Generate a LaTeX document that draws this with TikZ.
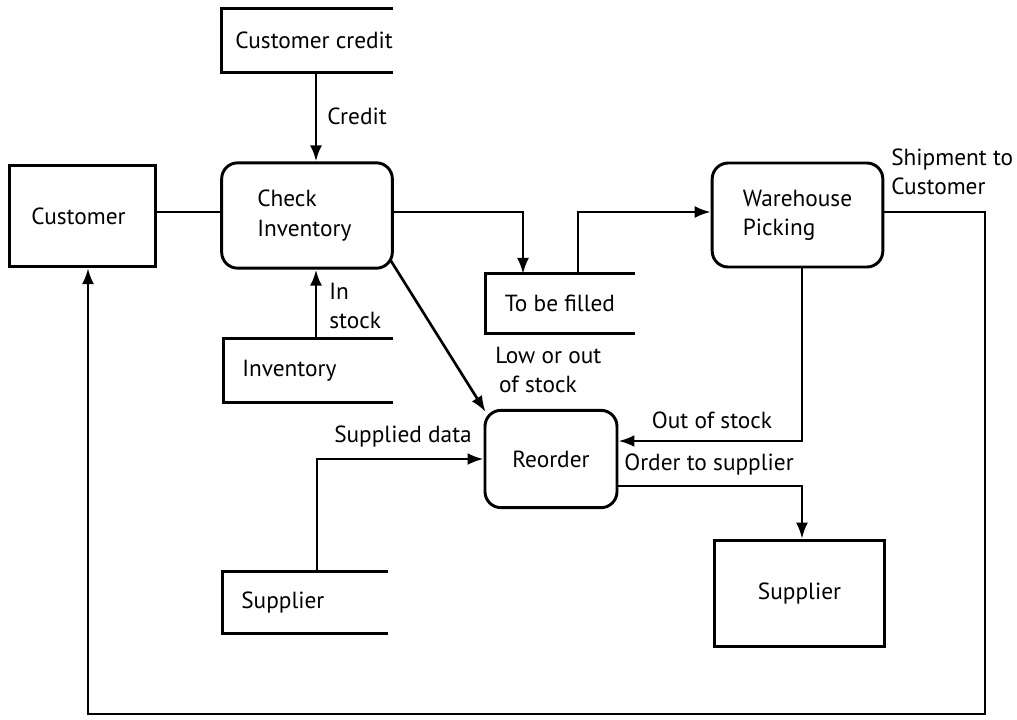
\documentclass[tikz,border=0pt]{standalone}
\usepackage{fontspec}
\setmainfont{PT Sans}
\usetikzlibrary{shapes,arrows.meta}

\tikzset{
  proc/.style={draw, line width=2.2pt, rounded corners=12pt, align=left, inner sep=0pt},
  entity/.style={draw, line width=2.2pt, inner sep=0pt},
  store/.style={inner sep=0pt},
  flow/.style={line width=2pt, -{Latex[length=12pt,width=9pt]}},
  link/.style={line width=2pt},
  lbl/.style={align=left, inner sep=0pt}
}

\begin{document}
\begin{tikzpicture}[x=0.75pt,y=0.75pt,yscale=-1,font=\fontsize{17.5}{22}\selectfont]
    \useasboundingbox (0,0) rectangle (1017,719);

    %Shape: Entity boxes
    \node [entity, minimum width=109pt, minimum height=76pt] (customer) at (82.5,216) {Customer\hspace*{6pt}};
    \node [entity, minimum width=127pt, minimum height=80pt] (supplier) at (799.5,593.5) {Supplier};

    %Shape: Processes
    \node [proc, minimum width=128pt, minimum height=79pt] (check) at (307,215.5) {Check\\Inventory\hspace*{4pt}};
    \node [proc, minimum width=128pt, minimum height=78pt] (warehouse) at (797.5,215) {Warehouse\\Picking};
    \node [proc, minimum width=99pt, minimum height=73pt] (reorder) at (551,459) {Reorder};

    %Shape: Data stores (open on the right)
    \node [store, minimum width=128pt, minimum height=47pt] (credit) at (307.5,40.5) {\hspace*{10pt}Customer credit};
    \node [store, minimum width=112pt, minimum height=44pt] (tofill) at (560,303.5) {To be filled};
    \node [store, minimum width=127pt, minimum height=47pt] (inventory) at (308,370.5) {Inventory\hspace*{28pt}};
    \node [store, minimum width=124pt, minimum height=46pt] (supstore) at (305.5,602.5) {Supplier\hspace*{34pt}};
    \foreach \s in {credit,tofill,inventory,supstore}
      \draw [line width=2.2pt] (\s.north east) -- (\s.north west) -- (\s.south west) -- (\s.south east);

    % Bend points
    \coordinate (cx) at (316,0);
    \coordinate (ta) at (523,212);
    \coordinate (tb) at (578,212);
    \coordinate (cc) at (88,0);
    \coordinate (sc) at (985,714);
    \coordinate (wx) at (802,441);
    \coordinate (ox) at (802,486);
    \coordinate (sx) at (317,459);

    %Straight Lines
    \draw [flow] (credit.south -| cx) -- (check.north -| cx);
    \draw [link] (customer.east |- ta) -- (check.west |- ta);
    \draw [flow] (check.east |- ta) -| (tofill.north -| ta);
    \draw [flow] (tofill.north -| tb) |- (warehouse.west |- tb);
    \draw [flow] (warehouse.east |- ta) -| (sc) -| (customer.south -| cc);
    \draw [flow] (inventory.north -| cx) -- (check.south -| cx);
    \draw [flow] ([shift={(-3,-9)}]check.south east) -- ([shift={(2,3)}]reorder.north west);
    \draw [flow] (warehouse.south -| wx) |- (reorder.east |- wx);
    \draw [flow] (reorder.east |- ox) -| (supplier.north -| ox);
    \draw [flow] (supstore.north -| sx) |- (reorder.west |- sx);

    % Text Node
    \node [lbl, anchor=west] (tcredit) at (327,116) {Credit};
    % Text Node
    \node [lbl, anchor=west] (tship) at (891,172) {Shipment to\\Customer};
    % Text Node
    \node [lbl, anchor=west] (tin) at (329,306) {In\\stock};
    % Text Node
    \node [lbl, anchor=west] (tlow) at (495,370) {Low or out\\\,of stock};
    % Text Node
    \node [lbl, anchor=west] (tsupd) at (334,437) {Supplied data};
    % Text Node
    \node [lbl] (tout) at (712,420) {Out of stock};
    % Text Node
    \node [lbl] (torder) at (709,465) {Order to supplier};

\end{tikzpicture}
\end{document}
